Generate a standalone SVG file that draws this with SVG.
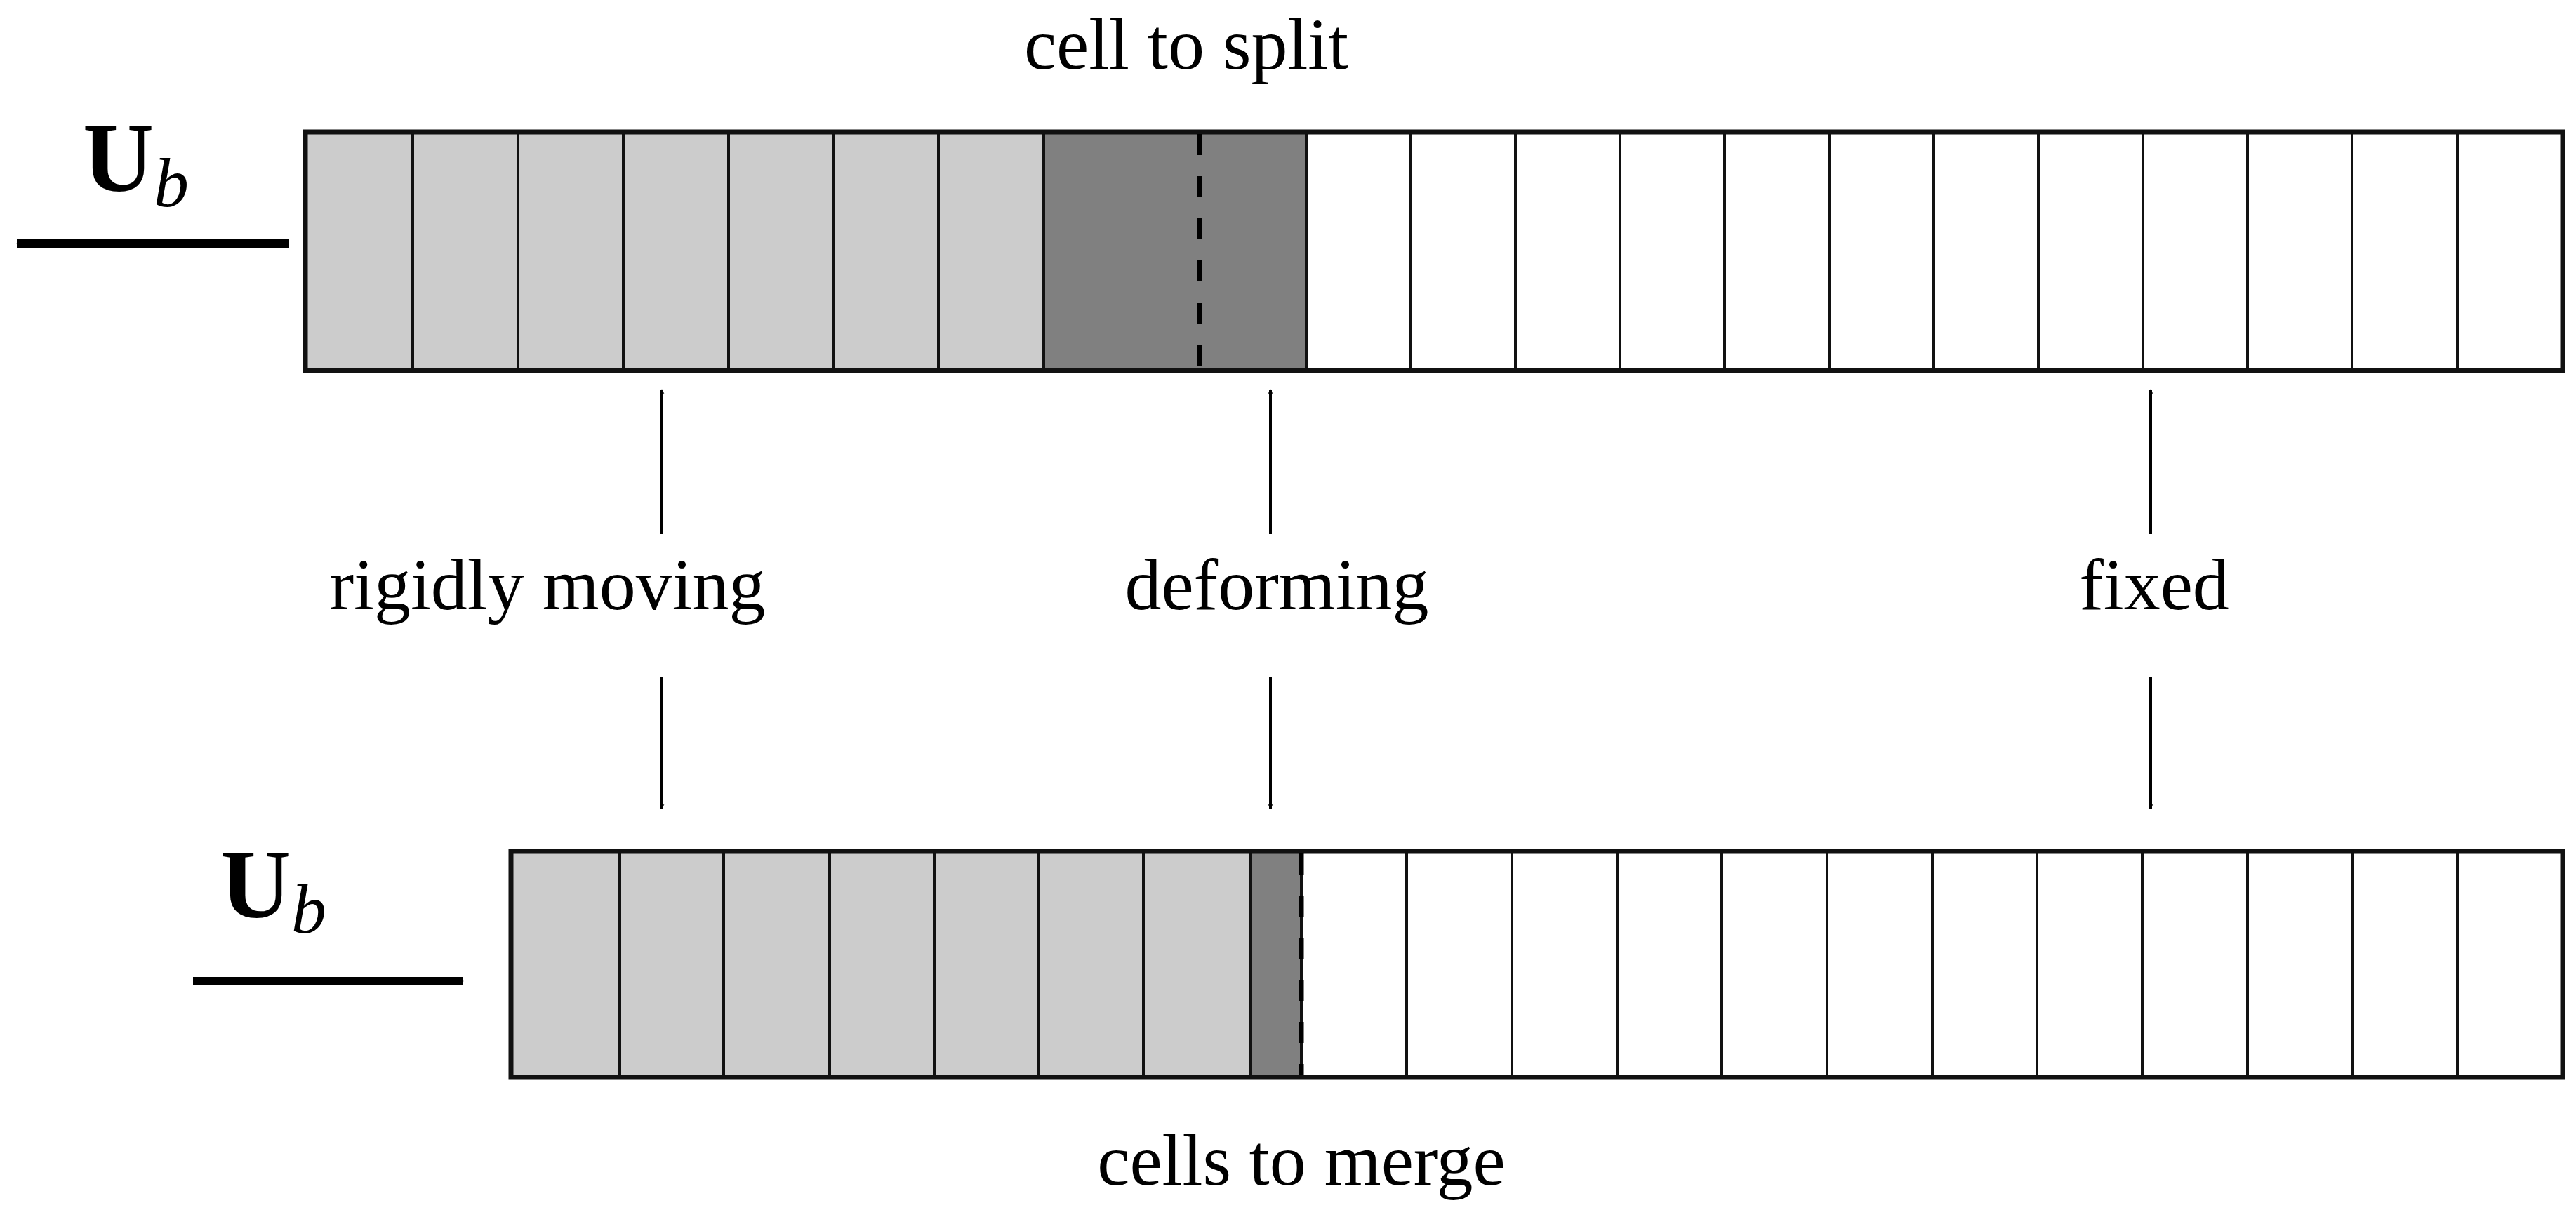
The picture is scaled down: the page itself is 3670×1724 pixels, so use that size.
<svg xmlns="http://www.w3.org/2000/svg" width="3670" height="1724" viewBox="0 0 3670 1724">
<style>
text{font-family:"Liberation Serif","DejaVu Serif",serif;fill:#000}
.lbl{font-size:104px;text-anchor:middle}
.ub{font-size:140px}
.cl{fill:#cccccc;stroke:#111;stroke-width:4}
.cd{fill:#808080;stroke:#111;stroke-width:4}
.cw{fill:#fff;stroke:#111;stroke-width:4}
.frame{fill:none;stroke:#111;stroke-width:7}
.dash{stroke:#000;stroke-width:7;stroke-dasharray:30 30}
.thin{stroke:#000;stroke-width:4;fill:none}
.thick{stroke:#000;stroke-width:12;fill:none}
</style>
<defs>
<marker id="ah" viewBox="0 0 10 10" refX="9" refY="5" markerWidth="5" markerHeight="5" markerUnits="strokeWidth" orient="auto"><path d="M0,0 L10,5 L0,10 L3,5 Z" fill="#000"/></marker>
<marker id="ahb" viewBox="0 0 10 10" refX="9" refY="5" markerWidth="7" markerHeight="7" markerUnits="userSpaceOnUse" orient="auto"><path d="M0,0 L10,5 L0,10 L3,5 Z" fill="#000"/></marker>
<marker id="big" viewBox="0 0 10 10" refX="9" refY="5" markerWidth="8" markerHeight="8" markerUnits="userSpaceOnUse" orient="auto"><path d="M0,0 L10,5 L0,10 L3,5 Z" fill="#000"/></marker>
</defs>
<g id="top-bar">
<rect class="cl" x="435" y="188" width="153" height="340"/>
<rect class="cl" x="588" y="188" width="150" height="340"/>
<rect class="cl" x="738" y="188" width="150" height="340"/>
<rect class="cl" x="888" y="188" width="150" height="340"/>
<rect class="cl" x="1038" y="188" width="149" height="340"/>
<rect class="cl" x="1187" y="188" width="150" height="340"/>
<rect class="cl" x="1337" y="188" width="150" height="340"/>
<rect class="cd" x="1487" y="188" width="374" height="340"/>
<rect class="cw" x="1861" y="188" width="149" height="340"/>
<rect class="cw" x="2010" y="188" width="149" height="340"/>
<rect class="cw" x="2159" y="188" width="149" height="340"/>
<rect class="cw" x="2308" y="188" width="149" height="340"/>
<rect class="cw" x="2457" y="188" width="149" height="340"/>
<rect class="cw" x="2606" y="188" width="149" height="340"/>
<rect class="cw" x="2755" y="188" width="149" height="340"/>
<rect class="cw" x="2904" y="188" width="149" height="340"/>
<rect class="cw" x="3053" y="188" width="149" height="340"/>
<rect class="cw" x="3202" y="188" width="149" height="340"/>
<rect class="cw" x="3351" y="188" width="150" height="340"/>
<rect class="cw" x="3501" y="188" width="150" height="340"/>
<rect class="frame" x="435" y="188" width="3216" height="340"/>
<line class="dash" x1="1709" y1="191" x2="1709" y2="525"/>
</g>
<g id="bottom-bar">
<rect class="cl" x="728" y="1213" width="155" height="322"/>
<rect class="cl" x="883" y="1213" width="148" height="322"/>
<rect class="cl" x="1031" y="1213" width="151" height="322"/>
<rect class="cl" x="1182" y="1213" width="149" height="322"/>
<rect class="cl" x="1331" y="1213" width="149" height="322"/>
<rect class="cl" x="1480" y="1213" width="149" height="322"/>
<rect class="cl" x="1629" y="1213" width="152" height="322"/>
<rect class="cd" x="1781" y="1213" width="73" height="322"/>
<rect class="cw" x="1854" y="1213" width="150" height="322"/>
<rect class="cw" x="2004" y="1213" width="150" height="322"/>
<rect class="cw" x="2154" y="1213" width="150" height="322"/>
<rect class="cw" x="2304" y="1213" width="149" height="322"/>
<rect class="cw" x="2453" y="1213" width="150" height="322"/>
<rect class="cw" x="2603" y="1213" width="150" height="322"/>
<rect class="cw" x="2753" y="1213" width="149" height="322"/>
<rect class="cw" x="2902" y="1213" width="150" height="322"/>
<rect class="cw" x="3052" y="1213" width="150" height="322"/>
<rect class="cw" x="3202" y="1213" width="150" height="322"/>
<rect class="cw" x="3352" y="1213" width="149" height="322"/>
<rect class="cw" x="3501" y="1213" width="150" height="322"/>
<rect class="frame" x="728" y="1213" width="2923" height="322"/>
<line class="dash" x1="1854" y1="1216" x2="1854" y2="1532"/>
</g>
<g id="ub-top"><text class="ub" x="118" y="272" font-weight="bold">U<tspan font-style="italic" font-weight="normal" font-size="100" dy="22">b</tspan></text></g>
<g id="ub-bottom"><text class="ub" x="314" y="1307" font-weight="bold">U<tspan font-style="italic" font-weight="normal" font-size="100" dy="22">b</tspan></text></g>
<g id="texts">
<text class="lbl" x="1690" y="98">cell to split</text>
<text class="lbl" x="1854" y="1688">cells to merge</text>
<text class="lbl" x="780" y="868">rigidly moving</text>
<text class="lbl" x="1819" y="868">deforming</text>
<text class="lbl" x="3069" y="868">fixed</text>
</g>
<g id="connectors">
<line class="thick" x1="412" y1="347" x2="24" y2="347" marker-end="url(#big)"/>
<line class="thick" x1="275" y1="1398" x2="660" y2="1398" marker-end="url(#big)"/>
<line class="thin" x1="943" y1="761" x2="943" y2="555" marker-end="url(#ahb)"/>
<line class="thin" x1="1810" y1="761" x2="1810" y2="555" marker-end="url(#ahb)"/>
<line class="thin" x1="3064" y1="761" x2="3064" y2="555" marker-end="url(#ahb)"/>
<line class="thin" x1="943" y1="964" x2="943" y2="1152" marker-end="url(#ahb)"/>
<line class="thin" x1="1810" y1="964" x2="1810" y2="1152" marker-end="url(#ahb)"/>
<line class="thin" x1="3064" y1="964" x2="3064" y2="1152" marker-end="url(#ahb)"/>
</g>
</svg>
